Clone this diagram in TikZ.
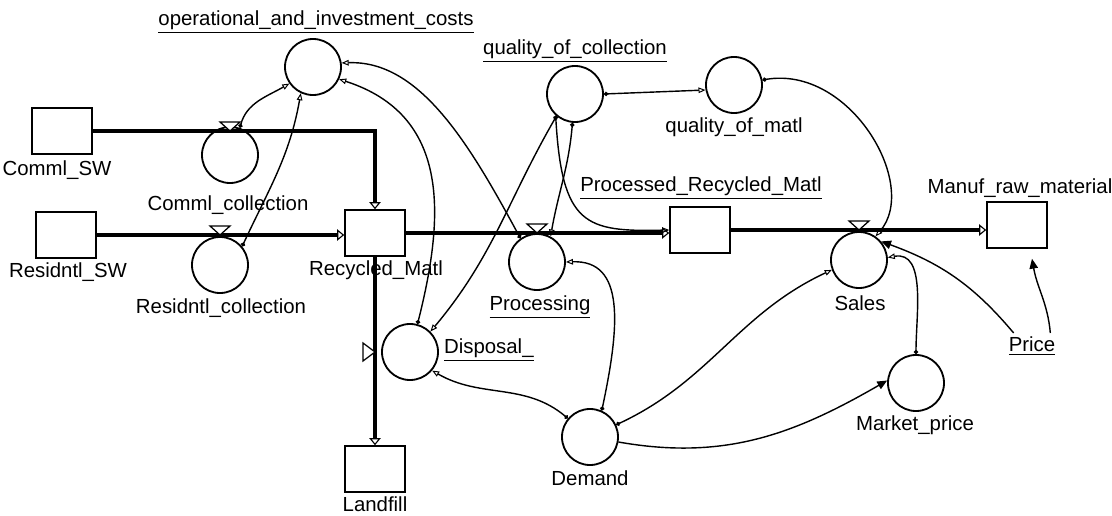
\documentclass[tikz,border=0pt]{standalone}
\usepackage{fontspec}
\setmainfont{Liberation Sans}
\usetikzlibrary{arrows.meta,positioning,calc}

\newcommand{\lblfont}{\fontsize{14.5}{17}\selectfont}

\tikzset{
  stock/.style={draw, line width=1.1pt, minimum width=1.5cm, minimum height=1.15cm, inner sep=0pt},
  aux/.style={circle, draw, line width=1.3pt, minimum size=1.4cm, inner sep=0pt},
  lbl/.style={font=\lblfont, inner sep=2pt},
  flow/.style={line width=3pt, -{Triangle[open, length=5pt, width=8pt, line width=0.8pt]}},
  valve/.style={draw, fill=white, line width=0.9pt},
  link/.style={line width=1pt, {Circle[length=3pt]}-{Triangle[open, length=5pt, width=4pt, line width=0.7pt]}},
  linkf/.style={line width=1pt, -{Triangle[length=7pt, width=6pt]}}
}

\begin{document}
\begin{tikzpicture}[x=0.025cm, y=0.025cm]
    \useasboundingbox (0,0) rectangle (1112,515);

    % Stocks
    \node[stock] (commsw) at (62,384) {};
    \node[stock] (ressw) at (66,280) {};
    \node[stock] (recmatl) at (375,282) {};
    \node[stock] (procmatl) at (700,285) {};
    \node[stock] (manuf) at (1017,290) {};
    \node[stock] (landfill) at (375,46) {};

    % Rates and converters
    \node[aux] (opcost) at (313,448) {};
    \node[aux] (comcol) at (230,360) {};
    \node[aux] (rescol) at (220,250) {};
    \node[aux] (qoc) at (575,421) {};
    \node[aux] (qom) at (734,430) {};
    \node[aux] (processing) at (537,253) {};
    \node[aux] (disposal) at (410,163) {};
    \node[aux] (sales) at (859,255) {};
    \node[aux] (demand) at (590,78) {};
    \node[aux] (mprice) at (916,132) {};

    % Labels
    \node[lbl] (commswlbl) at (57,345) {Comml\_SW};
    \node[lbl] (resswlbl) at (68,243) {Residntl\_SW};
    \node[lbl] (recmatllbl) at (376,245) {Recycled\_Matl};
    \node[lbl] (procmatllbl) at (701,327) {\underline{Processed\_Recycled\_Matl}};
    \node[lbl] (manuflbl) at (1020,327) {Manuf\_raw\_material};
    \node[lbl] (landfilllbl) at (375,11) {Landfill};
    \node[lbl] (opcostlbl) at (316,493) {\underline{operational\_and\_investment\_costs}};
    \node[lbl] (comcollbl) at (228,310) {Comml\_collection};
    \node[lbl] (rescollbl) at (221,207) {Residntl\_collection};
    \node[lbl] (qoclbl) at (575,464) {\underline{quality\_of\_collection}};
    \node[lbl] (qomlbl) at (734,388) {quality\_of\_matl};
    \node[lbl] (processinglbl) at (540,208) {\underline{Processing}};
    \node[lbl, anchor=west] (disposallbl) at (441,165) {\underline{Disposal\_}};
    \node[lbl] (saleslbl) at (860,212) {Sales};
    \node[lbl] (demandlbl) at (590,37) {Demand};
    \node[lbl] (mpricelbl) at (915,90) {Market\_price};
    \node[lbl] (price) at (1032,169) {\underline{Price}};

    % Flows
    \draw[flow] (commsw.east) -| (recmatl.north);
    \draw[flow] (ressw.east) -- (ressw.east -| recmatl.west);
    \draw[flow] (recmatl.east) -- (recmatl.east -| procmatl.west);
    \draw[flow] (procmatl.east) -- (procmatl.east -| manuf.west);
    \draw[flow] (recmatl.south) -- (landfill.north);

    % Valves
    \draw[valve] (comcol.north |- commsw.east) -- ++(-10,9) -- ++(20,0) -- cycle;
    \draw[valve] (rescol.north |- ressw.east) -- ++(-10,9) -- ++(20,0) -- cycle;
    \draw[valve] (processing.north |- recmatl.east) -- ++(-10,9) -- ++(20,0) -- cycle;
    \draw[valve] (sales.north |- procmatl.east) -- ++(-10,9) -- ++(20,0) -- cycle;
    \draw[valve] (recmatl.south |- disposal.west) -- ++(-12,9) -- ++(0,-18) -- cycle;

    % Connectors
    \draw[link] (comcol.70) to[out=75, in=210] (opcost.215);
    \draw[link] (rescol.40) to[out=65, in=260] (opcost.245);
    \draw[link] (processing.125) .. controls (470,370) and (420,455) .. (opcost.8);
    \draw[link] (disposal.75) .. controls (445,300) and (450,400) .. (opcost.-25);
    \draw[link] (qoc.0) -- (qom.190);
    \draw[link] (qom.10) .. controls (850,450) and (920,330) .. (sales.55);
    \draw[link] (qoc.265) to[out=265, in=80] (processing.62);
    \draw[link] (qoc.230) to[out=240, in=50] (disposal.45);
    \draw[link] (qoc.228) .. controls (562,290) and (585,283) .. (procmatl.west);
    \draw[link] (demand.66) .. controls (620,190) and (625,255) .. (processing.0);
    \draw[link] (demand.140) to[out=140, in=-30] (disposal.-40);
    \draw[link] (demand.25) to[out=25, in=205] (sales.200);
    \draw[linkf] (demand.-10) to[out=-10, in=210] (mprice.175);
    \draw[link] (mprice.north) to[out=90, in=10] (sales.5);
    \draw[linkf] ($(price.north west)+(8,1)$) to[out=130, in=-20] (sales.40);
    \draw[linkf] ($(price.north east)+(-8,1)$) to[out=95, in=-80] ($(manuf.south)+(15,-10)$);
\end{tikzpicture}
\end{document}
